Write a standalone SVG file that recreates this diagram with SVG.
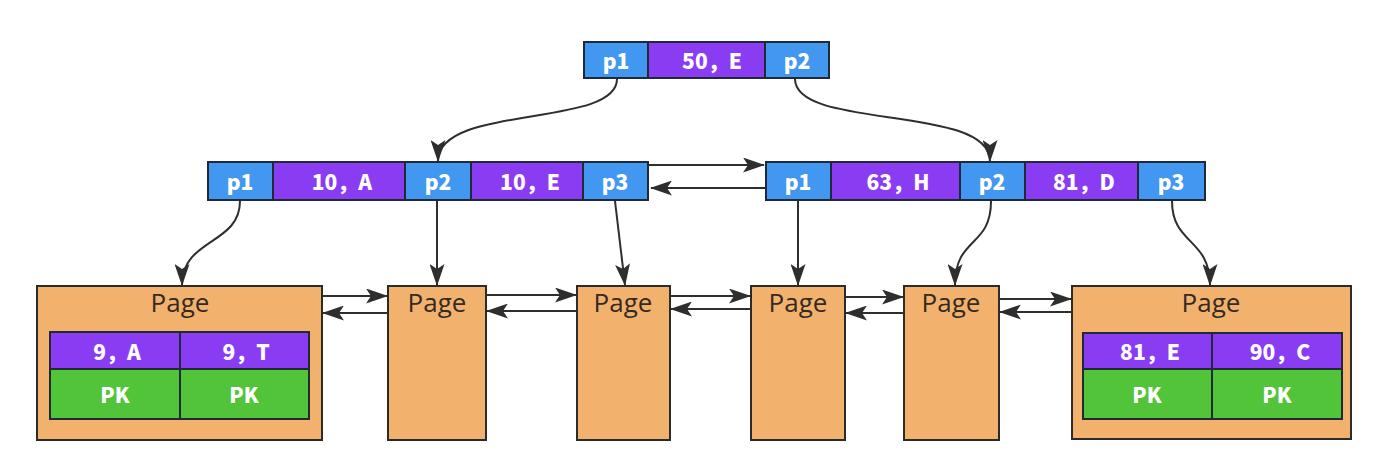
<svg xmlns="http://www.w3.org/2000/svg" width="1376" height="474" viewBox="0 0 1376 474">
  <defs>
    <style>
      .ptr { fill: #4297f0; stroke: #1f2a36; stroke-width: 2; }
      .key { fill: #8a3cf3; stroke: #1f2a36; stroke-width: 2; }
      .pk { fill: #52c43a; stroke: #1f2a36; stroke-width: 2; }
      .page { fill: #f2b26e; stroke: #2b2b2b; stroke-width: 2; }
      .lbl { font-family: "Noto Sans CJK SC", "Noto Sans", sans-serif; font-weight: 900; font-size: 21px; fill: #ffffff; text-anchor: middle; dominant-baseline: central; }
      .ptxt { font-family: "Open Sans", "Noto Sans", sans-serif; font-size: 26px; fill: #352a20; text-anchor: middle; dominant-baseline: central; }
      .edge { fill: none; stroke: #2e2e2e; stroke-width: 2; }
    </style>
    <!-- arrowhead sized in stroke widths: 11 x 7.5 at stroke 2 -->
    <marker id="arrow" viewBox="0 0 22 15" refX="21" refY="7.5" markerWidth="11" markerHeight="7.5" orient="auto">
      <path d="M0,0 L22,7.5 L0,15 L5,7.5 Z" fill="#2e2e2e"/>
    </marker>
  </defs>

  <!-- root index node -->
  <g id="root">
    <rect class="ptr" x="584" y="42" width="64" height="36"/>
    <rect class="key" x="648" y="42" width="117" height="36"/>
    <rect class="ptr" x="765" y="42" width="64" height="36"/>
    <text class="lbl" x="616" y="60">p1</text>
    <text class="lbl" x="712" y="60">50，E</text>
    <text class="lbl" x="797" y="60">p2</text>
  </g>

  <!-- second level, left -->
  <g id="inner-left">
    <rect class="ptr" x="208" y="162" width="65" height="38"/>
    <rect class="key" x="273" y="162" width="132" height="38"/>
    <rect class="ptr" x="405" y="162" width="66" height="38"/>
    <rect class="key" x="471" y="162" width="112" height="38"/>
    <rect class="ptr" x="583" y="162" width="65" height="38"/>
    <text class="lbl" x="240" y="181">p1</text>
    <text class="lbl" x="342" y="181">10，A</text>
    <text class="lbl" x="438" y="181">p2</text>
    <text class="lbl" x="530" y="181">10，E</text>
    <text class="lbl" x="615" y="181">p3</text>
  </g>

  <!-- second level, right -->
  <g id="inner-right">
    <rect class="ptr" x="766" y="162" width="65" height="38"/>
    <rect class="key" x="831" y="162" width="129" height="38"/>
    <rect class="ptr" x="960" y="162" width="65" height="38"/>
    <rect class="key" x="1025" y="162" width="113" height="38"/>
    <rect class="ptr" x="1138" y="162" width="67" height="38"/>
    <text class="lbl" x="798" y="181">p1</text>
    <text class="lbl" x="898" y="181">63，H</text>
    <text class="lbl" x="992" y="181">p2</text>
    <text class="lbl" x="1084" y="181">81，D</text>
    <text class="lbl" x="1171" y="181">p3</text>
  </g>

  <!-- leaf pages -->
  <g id="page1">
    <rect class="page" x="37" y="286" width="285" height="154"/>
    <text class="ptxt" x="180" y="302">Page</text>
    <rect class="key" x="50" y="332" width="130" height="37"/>
    <rect class="key" x="180" y="332" width="129" height="37"/>
    <rect class="pk" x="50" y="369" width="130" height="50"/>
    <rect class="pk" x="180" y="369" width="129" height="50"/>
    <text class="lbl" x="117" y="351">9，A</text>
    <text class="lbl" x="246" y="351">9，T</text>
    <text class="lbl" x="115" y="394">PK</text>
    <text class="lbl" x="244" y="394">PK</text>
  </g>
  <g id="page2">
    <rect class="page" x="388" y="286" width="98" height="154"/>
    <text class="ptxt" x="437" y="302">Page</text>
  </g>
  <g id="page3">
    <rect class="page" x="577" y="286" width="93" height="154"/>
    <text class="ptxt" x="623" y="302">Page</text>
  </g>
  <g id="page4">
    <rect class="page" x="751" y="286" width="94" height="154"/>
    <text class="ptxt" x="798" y="302">Page</text>
  </g>
  <g id="page5">
    <rect class="page" x="904" y="286" width="95" height="154"/>
    <text class="ptxt" x="951" y="302">Page</text>
  </g>
  <g id="page6">
    <rect class="page" x="1072" y="286" width="279" height="153"/>
    <text class="ptxt" x="1211" y="302">Page</text>
    <rect class="key" x="1083" y="333" width="129" height="36"/>
    <rect class="key" x="1212" y="333" width="130" height="36"/>
    <rect class="pk" x="1083" y="369" width="129" height="50"/>
    <rect class="pk" x="1212" y="369" width="130" height="50"/>
    <text class="lbl" x="1150" y="351">81，E</text>
    <text class="lbl" x="1280" y="351">90，C</text>
    <text class="lbl" x="1147" y="394">PK</text>
    <text class="lbl" x="1277" y="394">PK</text>
  </g>

  <!-- connectors -->
  <g id="edges">
    <!-- root pointers down to second level -->
    <path class="edge" marker-end="url(#arrow)" d="M617,79 C617,128 438,104 438,161"/>
    <path class="edge" marker-end="url(#arrow)" d="M795,79 C795,130 990,104 990,161"/>
    <!-- sibling links on second level -->
    <path class="edge" marker-end="url(#arrow)" d="M649,165 L764,165"/>
    <path class="edge" marker-end="url(#arrow)" d="M765,188 L651,188"/>
    <!-- second level pointers down to pages -->
    <path class="edge" marker-end="url(#arrow)" d="M240,201 C240,245 182,238 182,285"/>
    <path class="edge" marker-end="url(#arrow)" d="M437,201 L437,285"/>
    <path class="edge" marker-end="url(#arrow)" d="M615,201 L625,285"/>
    <path class="edge" marker-end="url(#arrow)" d="M798,201 L798,285"/>
    <path class="edge" marker-end="url(#arrow)" d="M991,201 C991,248 955,236 955,285"/>
    <path class="edge" marker-end="url(#arrow)" d="M1172,201 C1172,245 1210,238 1210,285"/>
    <!-- doubly linked leaf pages -->
    <path class="edge" marker-end="url(#arrow)" d="M322,296 L387,296"/>
    <path class="edge" marker-end="url(#arrow)" d="M388,313 L323,313"/>
    <path class="edge" marker-end="url(#arrow)" d="M486,295 L576,295"/>
    <path class="edge" marker-end="url(#arrow)" d="M577,311 L487,311"/>
    <path class="edge" marker-end="url(#arrow)" d="M670,296 L750,296"/>
    <path class="edge" marker-end="url(#arrow)" d="M751,309 L671,309"/>
    <path class="edge" marker-end="url(#arrow)" d="M845,297 L903,297"/>
    <path class="edge" marker-end="url(#arrow)" d="M904,313 L846,313"/>
    <path class="edge" marker-end="url(#arrow)" d="M999,299 L1071,299"/>
    <path class="edge" marker-end="url(#arrow)" d="M1072,312 L1000,312"/>
  </g>
</svg>
